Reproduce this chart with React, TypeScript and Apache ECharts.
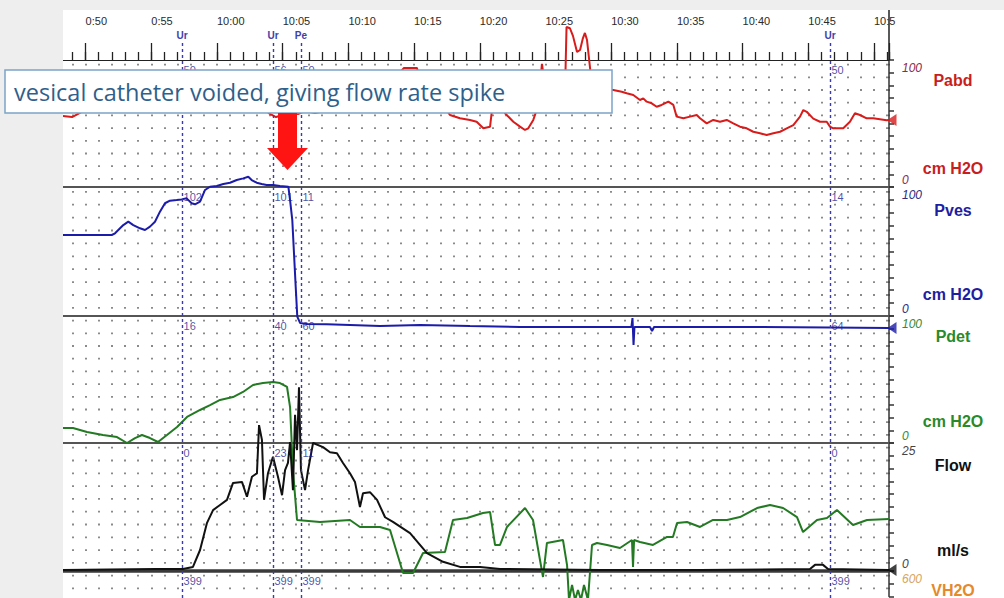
import React, { useEffect, useRef } from 'react';
import * as echarts from 'echarts';

// ---------- data (time in minutes relative to 10:00) ----------
const timeTickValues = [-10, -5, 0, 5, 10, 15, 20, 25, 30, 35, 40, 45, 50];
const timeTickLabels = ['0:50', '0:55', '10:00', '10:05', '10:10', '10:15', '10:20', '10:25', '10:30', '10:35', '10:40', '10:45', '10:5'];

const eventTimes = [-2.66, 4.26, 6.39, 46.65];
const eventNames = ['Ur', 'Ur', 'Pe', 'Ur'];
const pabdEventLabels = ['50', '56', '50', '50'];
const pvesEventLabels = ['102', '101', '11', '14'];
const pdetEventLabels = ['16', '40', '60', '64'];
const flowEventLabels = ['0', '23', '11', '0'];
const vh2oEventLabels = ['399', '399', '399', '399'];

const pabdData: [number, number][] = [
  [-11.72, 55.9], [-11.03, 55.1], [-10.43, 58.3], [-9.82, 63], [-8.5, 64], [-7.4, 62], [-5.1, 64], [-2.66, 62],
  [-0.53, 64], [1.75, 65], [3.65, 60.6], [4.03, 57.5], [4.49, 55.1], [5.02, 56.7], [5.56, 60], [6.16, 57.5],
  [6.7, 59.8], [7.46, 58.3], [8.22, 59.8], [8.98, 64], [10.88, 68], [13.17, 75], [14.08, 92], [14.23, 93.7],
  [15.22, 93.7], [15.37, 85], [16.21, 70], [17.35, 62], [17.73, 56.7], [18.49, 54.1], [19.25, 52.8], [19.76, 51.4],
  [20.27, 46.2], [20.78, 47.5], [20.9, 58.1], [21.16, 75], [21.54, 66], [21.92, 58.1], [22.55, 51.4], [23.06, 47.5],
  [23.44, 44.9], [23.69, 46.2], [24.07, 52.8], [24.33, 60.6], [24.58, 80], [24.73, 97], [24.89, 85], [25.34, 72],
  [26.2, 72], [26.52, 90], [26.6, 126], [26.86, 125], [27.09, 119], [27.4, 106.3], [27.63, 107.9], [27.85, 117.3],
  [28, 121.3], [28.16, 115.7], [28.39, 93.7], [28.54, 80], [29.15, 75], [29.76, 77], [30.16, 76.4], [30.8, 75],
  [31.18, 73.8], [31.68, 72.4], [32.19, 68.5], [32.44, 69.8], [32.7, 67.2], [33.08, 65.9], [33.46, 63.2], [33.84, 64.6],
  [34.35, 67.2], [34.73, 64.6], [34.98, 55.4], [35.49, 54.1], [36, 55.4], [36.51, 56.7], [36.76, 54.1], [37.27, 50.1],
  [37.77, 52.8], [38.28, 51.4], [38.79, 52.8], [39.29, 50.1], [39.8, 47.5], [40.31, 46.2], [40.81, 43.5], [41.32, 42.3],
  [41.83, 40.9], [42.34, 42.3], [42.85, 43.5], [43.36, 46.2], [43.86, 48.8], [44.37, 55.4], [44.62, 60.6], [44.88, 59.2],
  [45.38, 53.8], [45.89, 51.4], [46.4, 51.4], [46.65, 47.5], [46.9, 46.2], [47.66, 46.2], [48.17, 51.4], [48.55, 58.1],
  [48.93, 56.7], [49.44, 54.1], [49.94, 54.1], [50.96, 52.5], [51.14, 52.8],
];

const pvesData: [number, number][] = [
  [-11.72, 62.8], [-10.68, 62.8], [-8.01, 62.8], [-7.76, 64.1], [-7.38, 68], [-7.13, 70.5], [-6.75, 73.1], [-6.37, 70.5],
  [-5.86, 68], [-5.48, 66.7], [-5.1, 69.3], [-4.72, 73.1], [-4.34, 80.9], [-3.96, 87.4], [-3.58, 89.4], [-3.07, 89.9],
  [-2.69, 90.4], [-2.31, 91.2], [-1.93, 87.4], [-1.67, 86.6], [-1.29, 88.6], [-0.91, 97.7], [-0.53, 100.2], [-0.02, 100.8],
  [0.48, 102.3], [0.99, 103.3], [1.5, 105.4], [2.0, 106.7], [2.38, 108], [2.64, 105.4], [3.02, 103.3], [3.4, 102.3],
  [3.78, 101.6], [4.28, 101.6], [4.79, 100.8], [5.43, 100.2], [5.56, 89.9], [5.73, 74.4], [5.86, 48.5], [5.99, 22.6],
  [6.11, -0.5], [6.32, -5.4], [6.83, -6.2], [8.35, -6.4], [10.12, -7.0], [12.4, -7.8], [15.45, -7.0], [19.25, -7.8],
  [23.06, -8.5], [27.63, -8.5], [31.05, -8.5], [31.54, -8.5], [31.62, -1.6], [31.7, -22.5], [31.77, -8.5], [32.95, -8.5],
  [33.11, -11.6], [33.26, -8.5], [36.76, -8.5], [41.32, -8.5], [46.65, -8.9], [51.14, -9.3],
];

const pdetData: [number, number][] = [
  [-11.72, 11.8], [-10.96, 11.8], [-9.89, 8.7], [-8.68, 6.3], [-7.61, 4.7], [-6.85, 0], [-6.24, 3.9], [-5.71, 6.3],
  [-5.1, 3.9], [-4.49, 0.8], [-3.81, 6.3], [-3.04, 12.6], [-2.28, 20.5], [-1.29, 26], [-0.53, 29.9], [0.23, 33.9],
  [1.22, 36.2], [1.98, 40.2], [2.74, 45.7], [3.5, 47.2], [4.26, 48], [4.79, 47.2], [5.33, 44.1], [5.56, 28.3],
  [5.78, -21.3], [6.09, -60.6], [7.84, -62.2], [10.12, -60.6], [10.88, -66.1], [12.4, -66.1], [13.17, -68.5], [14.16, -102.4],
  [14.92, -102.4], [15.68, -86.6], [17.35, -85.8], [17.96, -60.6], [19.03, -59.1], [20.24, -55.1], [20.78, -54.3], [21.16, -80.3],
  [21.54, -80.3], [22.07, -66.1], [23.44, -51.2], [24.05, -60.6], [24.58, -92.1], [24.81, -105.5], [25.11, -78.7], [26.33, -76.4],
  [26.64, -96.1], [26.79, -123.6], [27.02, -111.8], [27.25, -123.6], [27.47, -115.7], [27.7, -123.6], [27.93, -111.8], [28.23, -123.6],
  [28.54, -80.3], [28.92, -78.7], [29.68, -80.3], [30.67, -82.7], [31.58, -76.4], [31.66, -97.6], [31.74, -76.4], [32.19, -78],
  [33.18, -80.3], [34.25, -74], [34.7, -74], [35.01, -63], [35.77, -62.2], [36.76, -66.1], [37.75, -60.6], [38.81, -60.6],
  [39.8, -58.3], [41.1, -51.2], [42.09, -48.8], [43.08, -51.2], [44.14, -58.3], [44.6, -70.1], [45.66, -60.6], [46.42, -59.1],
  [47.18, -52.8], [48.4, -64.6], [49.47, -60.6], [51.14, -59.8],
];

const flowData: [number, number][] = [
  [-11.72, 0.2], [-4.72, 0.4], [-2.59, 0.4], [-1.83, 0.8], [-1.29, 4.1], [-0.76, 9.4], [-0.3, 11.9], [0.23, 12.9],
  [0.76, 13.9], [1.22, 17.2], [1.9, 17.4], [2.28, 14.5], [2.66, 18.4], [3.04, 19.1], [3.2, 28.5], [3.42, 25.6],
  [3.58, 13.9], [3.88, 19.1], [4.26, 22.3], [4.64, 18.4], [4.95, 14.8], [5.18, 19.7], [5.4, 21.1], [5.56, 25.2],
  [5.78, 15.8], [5.94, 30.5], [6.09, 23.6], [6.24, 35.9], [6.39, 19.7], [6.7, 15.8], [6.93, 19.7], [7.31, 25],
  [8.07, 24.2], [8.6, 23.2], [9.13, 23], [9.59, 21.1], [10.12, 19.1], [10.5, 17.4], [10.88, 12.5], [11.11, 15.2],
  [11.64, 15.4], [12.18, 13.9], [12.79, 10.5], [13.39, 9.6], [14.69, 7.4], [15.98, 3.5], [17.2, 1.8], [18.49, 0.8],
  [20.02, 0.8], [21.54, 0.4], [29.15, 0.2], [36.76, 0.2], [45.13, 0.4], [45.51, 1.2], [46.12, 1.2], [46.5, 0.4],
  [51.14, 0.2],
];

// ---------- layout ----------
const PX_PER_MIN = 13.14;
const X_ZERO = 217;
const X_RIGHT = 889;
const T_MIN = -12;
const T_MAX = (X_RIGHT - X_ZERO) / PX_PER_MIN;
const RIGHT = 1004 - X_RIGHT;
const LEFT = X_ZERO + T_MIN * PX_PER_MIN;
const TOP_T_MIN = -15;
const TOP_LEFT = X_ZERO + TOP_T_MIN * PX_PER_MIN;

type Panel = {
  top: number; height: number; min: number; max: number; step: number; showMin: boolean;
  lineColor: string; labelColor: string; title: string; unit: string; titleColor: string;
  data: [number, number][] | null; events: string[]; marker: boolean; bottomLine: { show: boolean; color: string; width: number };
};

const panels: Panel[] = [
  { top: 60, height: 127, min: 0, max: 100, step: 10, showMin: true, lineColor: '#d81c1c', labelColor: '#8a2a4e', title: 'Pabd', unit: 'cm H2O', titleColor: '#c81e1e', data: pabdData, events: pabdEventLabels, marker: true, bottomLine: { show: true, color: '#555', width: 2 } },
  { top: 187, height: 129, min: 0, max: 100, step: 10, showMin: true, lineColor: '#1c1caa', labelColor: '#2c2c80', title: 'Pves', unit: 'cm H2O', titleColor: '#1e1ea0', data: pvesData, events: pvesEventLabels, marker: true, bottomLine: { show: true, color: '#555', width: 2 } },
  { top: 316, height: 127, min: 0, max: 100, step: 10, showMin: true, lineColor: '#237a23', labelColor: '#358a35', title: 'Pdet', unit: 'cm H2O', titleColor: '#2a8a2a', data: pdetData, events: pdetEventLabels, marker: false, bottomLine: { show: true, color: '#555', width: 2 } },
  { top: 443, height: 128, min: 0, max: 25, step: 2.5, showMin: true, lineColor: '#111', labelColor: '#444', title: 'Flow', unit: 'ml/s', titleColor: '#111', data: flowData, events: flowEventLabels, marker: true, bottomLine: { show: true, color: '#3a3a3a', width: 3.5 } },
  { top: 571, height: 25.4, min: 480, max: 600, step: 60, showMin: false, lineColor: '#e08a2a', labelColor: '#d6a560', title: 'VH2O', unit: '', titleColor: '#e5892b', data: null, events: vh2oEventLabels, marker: false, bottomLine: { show: false, color: '#555', width: 2 } },
];

function buildOption() {
  const grid: any[] = [
    { left: TOP_LEFT, right: RIGHT, top: 10, height: 50 },
    { left: LEFT, right: RIGHT, top: 43, bottom: 0 },
  ];
  const xAxis: any[] = [
    {
      gridIndex: 0, type: 'value', min: TOP_T_MIN, max: T_MAX, interval: 5, position: 'bottom',
      axisLine: { show: true, onZero: false, lineStyle: { color: '#222', width: 1 } },
      axisTick: { show: true, inside: true, length: 17, lineStyle: { color: '#222', width: 1.3 } },
      axisLabel: {
        show: true, inside: true, margin: 34, align: 'left', fontSize: 11, color: '#2a2a2a', fontFamily: 'Liberation Sans, Arial',
        formatter: (v: number) => { const i = timeTickValues.indexOf(v); return i >= 0 ? timeTickLabels[i] : ''; },
      },
      splitLine: { show: false },
    },
    {
      gridIndex: 0, type: 'value', min: TOP_T_MIN, max: T_MAX, interval: 1, position: 'bottom',
      axisLine: { show: false, onZero: false },
      axisTick: { show: true, inside: true, length: 8, lineStyle: { color: '#222', width: 1.3 } },
      axisLabel: { show: false }, splitLine: { show: false },
    },
    { gridIndex: 1, type: 'value', min: T_MIN, max: T_MAX, show: false, axisLine: { onZero: false } },
  ];
  const yAxis: any[] = [
    { gridIndex: 0, type: 'value', min: 0, max: 1, position: 'right', axisLine: { show: true, onZero: false, lineStyle: { color: '#222', width: 1.5 } }, axisTick: { show: false }, axisLabel: { show: false }, splitLine: { show: false } },
    { gridIndex: 1, type: 'value', min: 0, max: 1, show: false, axisLine: { onZero: false } },
  ];
  const series: any[] = [
    {
      type: 'line', xAxisIndex: 2, yAxisIndex: 1, data: [], silent: true, z: 3,
      markLine: {
        silent: true, symbol: ['none', 'none'],
        lineStyle: { color: '#3a3aa8', type: [3, 3], width: 1.4 },
        label: { show: true, position: 'end', formatter: '{b}', color: '#4040aa', fontSize: 10, fontWeight: 'bold', fontFamily: 'Liberation Sans, Arial', distance: 3 },
        data: eventTimes.map((t, i) => ({ xAxis: t, name: eventNames[i] })),
      },
    },
  ];

  panels.forEach((p, k) => {
    const gi = k + 2;
    const xi = k + 3;
    const yi = k + 2;
    const dotGap = (p.height * p.step) / (p.max - p.min);
    grid.push({ left: LEFT, right: RIGHT, top: p.top, height: p.height });
    xAxis.push({
      gridIndex: gi, type: 'value', min: T_MIN, max: T_MAX, interval: 1, position: 'bottom',
      axisLine: { show: p.bottomLine.show, onZero: false, lineStyle: { color: p.bottomLine.color, width: p.bottomLine.width } },
      axisTick: { show: false }, axisLabel: { show: false },
      splitLine: { show: true, lineStyle: { color: '#7e7e7e', width: 1.8, type: [1.8, dotGap - 1.8], dashOffset: dotGap - 4 } },
    });
    yAxis.push({
      gridIndex: gi, type: 'value', min: p.min, max: p.max, interval: p.step, position: 'right',
      axisLine: { show: true, onZero: false, lineStyle: { color: '#333', width: 1.5 } },
      axisTick: { show: true, inside: false, length: 5, lineStyle: { color: '#333', width: 1.5 } },
      splitLine: { show: false },
      axisLabel: {
        show: true, margin: 13, align: 'left',
        formatter: (v: number) => (v === p.max ? `{t|${p.max}}` : v === p.min && p.showMin ? `{b|${p.min}}` : ''),
        rich: {
          t: { padding: [15, 0, 0, 0], fontStyle: 'italic', fontSize: 12, color: p.labelColor, fontFamily: 'Liberation Sans, Arial' },
          b: { padding: [0, 0, 15, 0], fontStyle: 'italic', fontSize: 12, color: p.labelColor, fontFamily: 'Liberation Sans, Arial' },
        },
      },
    });
    if (p.data) {
      series.push({
        type: 'line', xAxisIndex: xi, yAxisIndex: yi, data: p.data, showSymbol: false, symbol: 'none', clip: false,
        lineStyle: { color: p.lineColor, width: 2 }, silent: true, z: 2,
      });
      if (p.marker) {
        series.push({
          type: 'scatter', xAxisIndex: xi, yAxisIndex: yi, data: [p.data[p.data.length - 1]], clip: false, silent: true,
          symbol: 'path://M0,6L10,0L10,12Z', symbolSize: [9, 12], symbolOffset: [3, 0], itemStyle: { color: p.lineColor }, z: 4,
        });
      }
    }
    const labelY = p.max - (10 / p.height) * (p.max - p.min);
    series.push({
      type: 'scatter', xAxisIndex: xi, yAxisIndex: yi, data: eventTimes.map((t) => [t, labelY]), clip: false, silent: true,
      symbolSize: 1, itemStyle: { color: 'rgba(0,0,0,0)' }, z: 3,
      label: {
        show: true, position: 'right', distance: 1, color: '#1f1f90', fontSize: 11, fontFamily: 'Liberation Sans Narrow, Liberation Sans, Arial',
        formatter: (prm: any) => p.events[prm.dataIndex],
      },
    });
  });

  const titleFont = 'bold 16px "Liberation Sans", Arial, sans-serif';
  const sideTexts: any[] = [];
  const titlePos = [[80, 168], [210, 294], [336, 421], [465, 550], [590, 0]];
  panels.forEach((p, k) => {
    sideTexts.push({ type: 'text', x: 953, y: titlePos[k][0], z: 60, style: { text: p.title, fill: p.titleColor, font: titleFont, textAlign: 'center', textVerticalAlign: 'middle' } });
    if (p.unit) sideTexts.push({ type: 'text', x: 953, y: titlePos[k][1], z: 60, style: { text: p.unit, fill: p.titleColor, font: titleFont, textAlign: 'center', textVerticalAlign: 'middle' } });
  });

  const graphic: any[] = [
    { type: 'rect', z: 50, silent: true, shape: { x: 0, y: 0, width: 63, height: 598 }, style: { fill: '#eeeeee' } },
    { type: 'rect', z: 50, silent: true, shape: { x: 0, y: 0, width: 1004, height: 10 }, style: { fill: '#eeeeee' } },
    ...sideTexts,
    { type: 'rect', z: 100, shape: { x: 5, y: 70, width: 607, height: 43 }, style: { fill: '#ffffff', stroke: '#7ea4c8', lineWidth: 1.5 } },
    { type: 'text', z: 101, x: 14, y: 92, style: { text: 'vesical catheter voided, giving flow rate spike', fill: '#2f5f8b', font: '23.5px "Open Sans", Lato, sans-serif', textVerticalAlign: 'middle' } },
    { type: 'polygon', z: 101, shape: { points: [[278, 113], [297, 113], [297, 148], [308, 148], [287.5, 170], [267, 148], [278, 148]] }, style: { fill: '#ff1414' } },
  ];

  return { animation: false, backgroundColor: '#ffffff', grid, xAxis, yAxis, series, graphic };
}

export default function App() {
  const ref = useRef<HTMLDivElement>(null);
  useEffect(() => {
    document.body.style.margin = '0';
    const chart = echarts.init(ref.current!, null, { renderer: 'svg' });
    chart.setOption(buildOption() as any);
    return () => chart.dispose();
  }, []);
  return <div ref={ref} style={{ width: 1004, height: 598 }} />;
}
